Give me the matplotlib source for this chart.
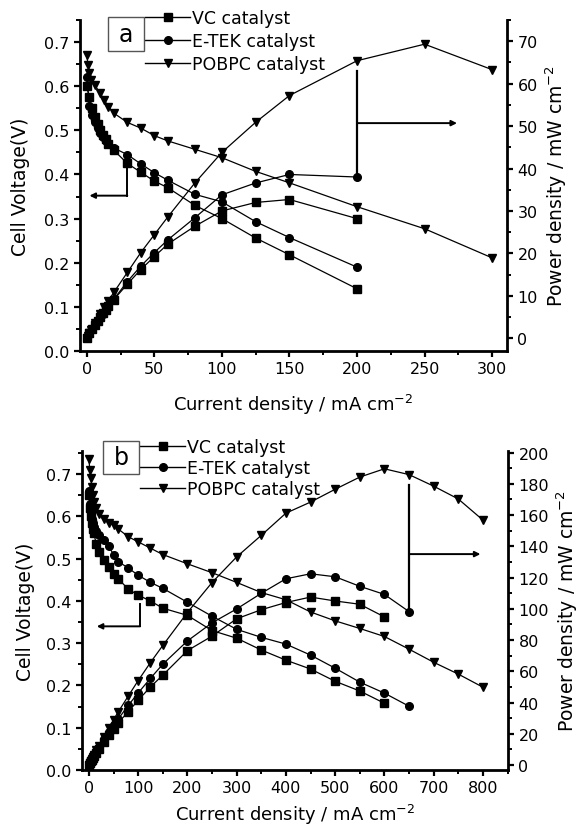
import matplotlib
matplotlib.use("Agg")
import matplotlib.pyplot as plt
from matplotlib.lines import Line2D
from matplotlib.patches import Rectangle
from matplotlib.ticker import MultipleLocator

# ── Panel a data ─────────────────────────────────────────────────────────────
a_vc_i = [0, 2, 4, 6, 8, 10, 12, 14, 16, 20, 30, 40, 50, 60, 80, 100, 125, 150, 200]
a_vc_v = [0.60, 0.575, 0.55, 0.53, 0.515, 0.50, 0.49, 0.48, 0.47, 0.455, 0.425,
          0.405, 0.385, 0.37, 0.33, 0.30, 0.256, 0.218, 0.141]
a_vc_p = [0, 1.15, 2.2, 3.2, 4.1, 5.0, 5.9, 6.7, 7.5, 9.1, 12.75, 16.2, 19.25,
          22.2, 26.4, 30.0, 32.0, 32.7, 28.2]

a_et_i = [0, 2, 4, 6, 8, 10, 12, 14, 16, 20, 30, 40, 50, 60, 80, 100, 125, 150, 200]
a_et_v = [0.62, 0.555, 0.535, 0.52, 0.505, 0.495, 0.485, 0.475, 0.468, 0.46, 0.445,
          0.424, 0.404, 0.387, 0.355, 0.338, 0.293, 0.257, 0.19]
a_et_p = [0, 1.1, 2.1, 3.1, 4.0, 4.95, 5.8, 6.65, 7.5, 9.2, 13.35, 17.0, 20.2,
          23.2, 28.4, 33.8, 36.6, 38.6, 38.0]

a_pb_i = [0, 1, 2, 3, 6, 10, 13, 16, 20, 30, 40, 50, 60, 80, 100, 125, 150, 200, 250, 300]
a_pb_v = [0.67, 0.648, 0.63, 0.615, 0.602, 0.584, 0.568, 0.554, 0.539, 0.518, 0.505,
          0.488, 0.476, 0.457, 0.438, 0.407, 0.381, 0.327, 0.277, 0.211]
a_pb_p = [0, 0.65, 1.26, 1.85, 3.6, 5.8, 7.4, 8.9, 10.8, 15.5, 20.2, 24.4, 28.6,
          36.6, 43.8, 50.9, 57.2, 65.4, 69.3, 63.3]

# ── Panel b data ─────────────────────────────────────────────────────────────
b_vc_i = [0, 2, 4, 6, 8, 10, 15, 20, 30, 40, 50, 60, 80, 100, 125, 150, 200, 250,
          300, 350, 400, 450, 500, 550, 600]
b_vc_v = [0.65, 0.62, 0.60, 0.585, 0.57, 0.56, 0.535, 0.515, 0.497, 0.48, 0.465,
          0.452, 0.428, 0.414, 0.40, 0.383, 0.366, 0.33, 0.312, 0.284, 0.26, 0.239,
          0.21, 0.187, 0.158]
b_vc_p = [0, 1.24, 2.4, 3.5, 4.56, 5.6, 8.0, 10.3, 14.9, 19.2, 23.25, 27.1, 34.2,
          41.4, 50.0, 57.5, 73.2, 82.5, 93.6, 99.4, 104.0, 107.5, 105.0, 102.9, 94.8]

b_et_i = [0, 2, 4, 6, 8, 10, 15, 20, 30, 40, 50, 60, 80, 100, 125, 150, 200, 250,
          300, 350, 400, 450, 500, 550, 600, 650]
b_et_v = [0.66, 0.63, 0.61, 0.595, 0.585, 0.575, 0.565, 0.556, 0.545, 0.53, 0.51,
          0.493, 0.478, 0.461, 0.444, 0.43, 0.397, 0.364, 0.333, 0.314, 0.298,
          0.272, 0.241, 0.208, 0.182, 0.151]
b_et_p = [0, 1.26, 2.44, 3.57, 4.68, 5.75, 8.5, 11.1, 16.35, 21.2, 25.5, 29.6,
          38.2, 46.1, 55.5, 64.5, 79.4, 91.0, 99.9, 109.9, 119.2, 122.4, 120.5,
          114.4, 109.2, 98.2]

b_pb_i = [0, 2, 4, 6, 8, 10, 15, 20, 30, 40, 50, 60, 80, 100, 125, 150, 200, 250,
          300, 350, 400, 450, 500, 550, 600, 650, 700, 750, 800]
b_pb_v = [0.735, 0.71, 0.69, 0.67, 0.65, 0.635, 0.62, 0.605, 0.593, 0.585, 0.58,
          0.57, 0.552, 0.54, 0.525, 0.51, 0.488, 0.467, 0.444, 0.42, 0.403, 0.374,
          0.353, 0.335, 0.316, 0.286, 0.255, 0.227, 0.196]
b_pb_p = [0, 1.42, 2.76, 4.0, 5.2, 6.35, 9.3, 12.1, 17.8, 23.4, 29.0, 34.2, 44.2,
          54.0, 65.6, 76.5, 97.6, 116.8, 133.2, 147.0, 161.2, 168.3, 176.5, 184.3,
          189.6, 185.9, 178.5, 170.3, 156.8]

labels = ["VC catalyst", "E-TEK catalyst", "POBPC catalyst"]
markers = ["s", "o", "v"]

W, H = 580, 828
fig = plt.figure(figsize=(W / 100, H / 100), dpi=100)
fig.patch.set_facecolor("white")


def px(x, y):
    return x / W, 1 - y / H


def style_axis(ax, tw):
    ax.spines["top"].set_visible(False)
    tw.spines["top"].set_visible(False)
    ax.spines["right"].set_visible(False)
    tw.spines["left"].set_visible(False)
    tw.spines["bottom"].set_visible(False)
    for s in ["left", "bottom"]:
        ax.spines[s].set_linewidth(2.0)
    tw.spines["right"].set_linewidth(2.0)
    for a in (ax, tw):
        a.tick_params(which="major", direction="out", length=4.5, width=1.6,
                      labelsize=11.5, pad=3)
        a.tick_params(which="minor", direction="out", length=3, width=1.4)


def panel(rect, series, xlim, ylim_v, ylim_p, xmaj, pmaj, pmin, xpad, vpad):
    ax = fig.add_axes(rect)
    tw = ax.twinx()
    for (i, v, p), mk in zip(series, markers):
        ax.plot(i, v, color="black", lw=0.9, marker=mk, ms=5.5, zorder=3)
        tw.plot(i, p, color="black", lw=0.9, marker=mk, ms=5.5, zorder=3)
    ax.set_xlim(*xlim)
    ax.set_ylim(*ylim_v)
    tw.set_ylim(*ylim_p)
    ax.xaxis.set_major_locator(MultipleLocator(xmaj))
    ax.xaxis.set_minor_locator(MultipleLocator(xmaj / 2))
    ax.yaxis.set_major_locator(MultipleLocator(0.1))
    ax.yaxis.set_minor_locator(MultipleLocator(0.05))
    tw.yaxis.set_major_locator(MultipleLocator(pmaj))
    tw.yaxis.set_minor_locator(MultipleLocator(pmin))
    ax.yaxis.set_major_formatter(plt.FuncFormatter(lambda y, _: f"{y:.1f}"))
    style_axis(ax, tw)
    ax.set_ylabel("Cell Voltage(V)", fontsize=13.5, labelpad=vpad)
    tw.set_ylabel("Power density / mW cm$^{-2}$", fontsize=13.5, labelpad=4)
    ax.set_xlabel("Current density / mA cm$^{-2}$", fontsize=13, labelpad=xpad)
    return ax, tw


def arrows(ax, tw, left, right):
    (xl, v0, v1, xt) = left
    ax.plot([xl, xl], [v0, v1], color="black", lw=1.4)
    ax.annotate("", xy=(xt, v1), xytext=(xl, v1),
                arrowprops=dict(arrowstyle="-|>", color="black", lw=1.4,
                                mutation_scale=8, shrinkA=0, shrinkB=0))
    (xr, p0, p1, ph, xe) = right
    tw.plot([xr, xr], [p0, p1], color="black", lw=1.6)
    tw.annotate("", xy=(xe, ph), xytext=(xr, ph),
                arrowprops=dict(arrowstyle="-|>", color="black", lw=1.4,
                                mutation_scale=8, shrinkA=0, shrinkB=0))


def legend_box(ax, letter, box, anchor, spacing):
    x0, y0, x1, y1 = box
    fx0, fy1 = px(x0, y1)
    fx1, fy0 = px(x1, y0)
    fig.patches.append(Rectangle((fx0, fy1), fx1 - fx0, fy0 - fy1,
                                 transform=fig.transFigure, fc="white",
                                 ec="#555555", lw=1.0))
    fig.text((fx0 + fx1) / 2, (fy0 + fy1) / 2, letter, fontsize=17,
             ha="center", va="center")
    handles = [Line2D([], [], color="black", lw=1.0, marker=m, ms=5.5)
               for m in markers]
    ax.legend(handles, labels, loc="upper left", bbox_to_anchor=px(*anchor),
              bbox_transform=fig.transFigure, frameon=False, fontsize=12.5,
              handlelength=2.6, handletextpad=0.1, borderpad=0,
              borderaxespad=0, labelspacing=spacing, numpoints=1)


# ── Panel a ──────────────────────────────────────────────────────────────────
ax_a, tw_a = panel([80 / W, 1 - 352 / H, 427 / W, 331 / H],
                   [(a_vc_i, a_vc_v, a_vc_p), (a_et_i, a_et_v, a_et_p),
                    (a_pb_i, a_pb_v, a_pb_p)],
                   (-5, 311), (0, 0.75), (-3, 75), 50, 10, 5, 11, 10)
arrows(ax_a, tw_a, (30, 0.43, 0.352, 2), (200, 63, 37.5, 50.7, 274))
legend_box(ax_a, "a", (108, 18, 144, 52), (145, 10), 0.3)

# ── Panel b ──────────────────────────────────────────────────────────────────
ax_b, tw_b = panel([82 / W, 1 - 771 / H, 426 / W, 319 / H],
                   [(b_vc_i, b_vc_v, b_vc_p), (b_et_i, b_et_v, b_et_p),
                    (b_pb_i, b_pb_v, b_pb_p)],
                   (-14, 851), (0, 0.755), (-3.2, 201), 100, 20, 10, 5, 8)
arrows(ax_b, tw_b, (104, 0.392, 0.34, 16), (650, 179.5, 98, 135, 795))
legend_box(ax_b, "b", (103, 442, 139, 475), (140, 439), 0.18)

fig.savefig("out.png", dpi=100, facecolor="white")
